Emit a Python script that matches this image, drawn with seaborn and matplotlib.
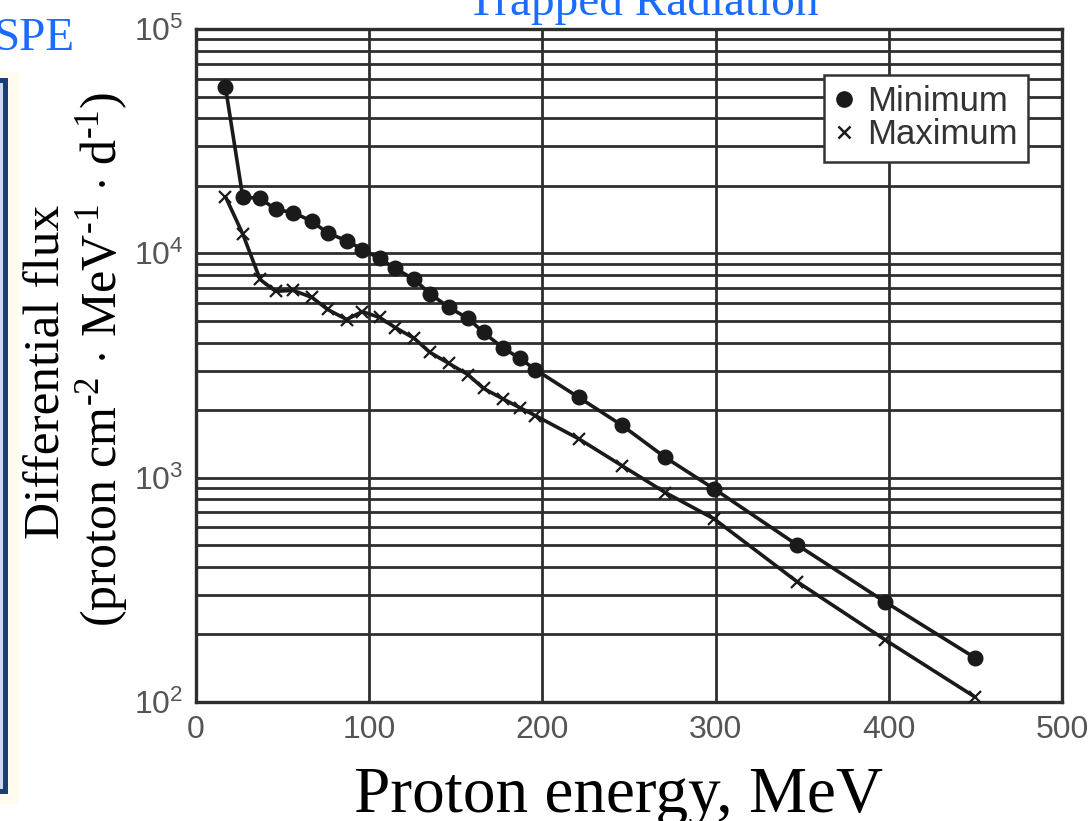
import numpy as np
import pandas as pd
import seaborn as sns
import matplotlib.pyplot as plt
from matplotlib.ticker import LogLocator, FixedLocator, NullFormatter, FuncFormatter
from matplotlib.lines import Line2D
from matplotlib.patches import Rectangle

# proton energy (MeV) and differential flux
energy = [17, 27, 37, 46, 56, 67, 76, 87, 96, 106, 115, 126, 135,
          146, 157, 166, 177, 187, 196, 221, 246, 271, 299, 347, 398, 450]
flux_min = [55100, 17800, 17600, 15700, 15200, 13900, 12300, 11400, 10400,
            9500, 8570, 7650, 6620, 5740, 5130, 4440, 3800, 3400, 3030,
            2280, 1710, 1230, 893, 502, 279, 157]
flux_max = [17900, 12200, 7650, 6770, 6840, 6360, 5620, 5070, 5500,
            5180, 4670, 4180, 3620, 3230, 2880, 2500, 2250, 2050, 1890,
            1490, 1130, 858, 656, 344, 189, 105]
x_ticks = [0, 100, 200, 300, 400, 500]
y_ticks = [1e2, 1e3, 1e4, 1e5]

sns.set_theme(style="white")
plt.rcParams['font.family'] = ['Liberation Sans', 'DejaVu Sans']
plt.rcParams['mathtext.fontset'] = 'custom'
plt.rcParams['mathtext.rm'] = 'Liberation Serif'
plt.rcParams['mathtext.it'] = 'Liberation Serif:italic'
plt.rcParams['mathtext.sf'] = 'Liberation Sans'

W, H = 1092, 821
fig = plt.figure(figsize=(W / 100, H / 100), dpi=100)
ax = fig.add_axes([196 / W, 1 - 702 / H, 866 / W, 673 / H])

ink = '#1a1a1a'
sns.lineplot(x=energy, y=flux_min, ax=ax, color=ink, lw=2.6, marker='o',
             markersize=10.5, markeredgecolor=ink, markeredgewidth=1,
             zorder=3, legend=False)
sns.lineplot(x=energy, y=flux_max, ax=ax, color=ink, lw=2.6, marker='x',
             markersize=9, markeredgecolor=ink, markeredgewidth=1.6,
             zorder=3, legend=False)

ax.set_yscale('log')
ax.set_xlim(0, 500)
ax.set_ylim(1e2, 1e5)
ax.set_xticks(x_ticks)
ax.yaxis.set_major_locator(FixedLocator(y_ticks))
ax.yaxis.set_minor_locator(LogLocator(base=10, subs=np.arange(2, 10), numticks=20))
ax.yaxis.set_minor_formatter(NullFormatter())
ax.yaxis.set_major_formatter(FuncFormatter(lambda v, p: r'$\mathsf{10^{%d}}$' % round(np.log10(v))))

ax.grid(True, which='both', axis='y', color='#2e2e2e', lw=2)
ax.grid(True, which='major', axis='x', color='#2e2e2e', lw=2)
ax.set_axisbelow(True)
for sp in ax.spines.values():
    sp.set_color('#2e2e2e')
    sp.set_linewidth(2.4)
ax.tick_params(which='both', length=0, labelsize=23, labelcolor='#555555')
ax.tick_params(axis='x', pad=9)
ax.tick_params(axis='y', pad=9)
ax.set_xlabel('')
ax.set_ylabel('')

handles = [Line2D([], [], ls='none', marker='o', color=ink, ms=11),
           Line2D([], [], ls='none', marker='x', color=ink, ms=8, mew=1.8)]
leg = ax.legend(handles, ['Minimum', 'Maximum'], loc='upper right',
                bbox_to_anchor=(0.9607, 0.9316), fontsize=25, frameon=True,
                fancybox=False, edgecolor='#333333', framealpha=1,
                handlelength=0.6, handletextpad=0.35, borderpad=0.3,
                labelspacing=0.0, borderaxespad=0)
leg.get_frame().set_linewidth(1.8)
for t in leg.get_texts():
    t.set_color('#333333')

# axis titles
fig.text(618 / W, 1 - 812 / H, 'Proton energy, MeV', ha='center', va='baseline',
         fontsize=47, family='Liberation Serif', color='black')
fig.text(47 / W, 1 - 372 / H, 'Differential flux', rotation=90, ha='center',
         va='center', fontsize=37, family='Liberation Serif', color='black')
fig.text(102 / W, 1 - 360 / H,
         r'(proton cm$^{\text{-}2}$ $\cdot$ MeV$^{\text{-}1}$ $\cdot$ d$^{\text{-}1}$)',
         rotation=90, ha='center', va='center', fontsize=36,
         family='Liberation Serif', color='black')

# slide leftovers
blue = '#1a6cff'
fig.text(75 / W, 1 - 50 / H, 'SPE', ha='right', va='baseline', fontsize=34,
         family='Liberation Serif', color=blue)
fig.text(643 / W, 1 - 15 / H, 'Trapped Radiation', ha='center', va='baseline',
         fontsize=34, family='Liberation Serif', color=blue)


def px_rect(x0, y0, x1, y1, **kw):
    return Rectangle((x0 / W, 1 - y1 / H), (x1 - x0) / W, (y1 - y0) / H,
                     transform=fig.transFigure, **kw)


fig.add_artist(px_rect(-10, 72, 19, 804, facecolor='#fffbee', edgecolor='none'))
fig.add_artist(px_rect(-10, 78, 8, 794, facecolor='#1b3f73', edgecolor='none'))
fig.add_artist(px_rect(-10, 83, 3, 789, facecolor='#cfd9ee', edgecolor='none'))

fig.savefig('out.png', dpi=100)
